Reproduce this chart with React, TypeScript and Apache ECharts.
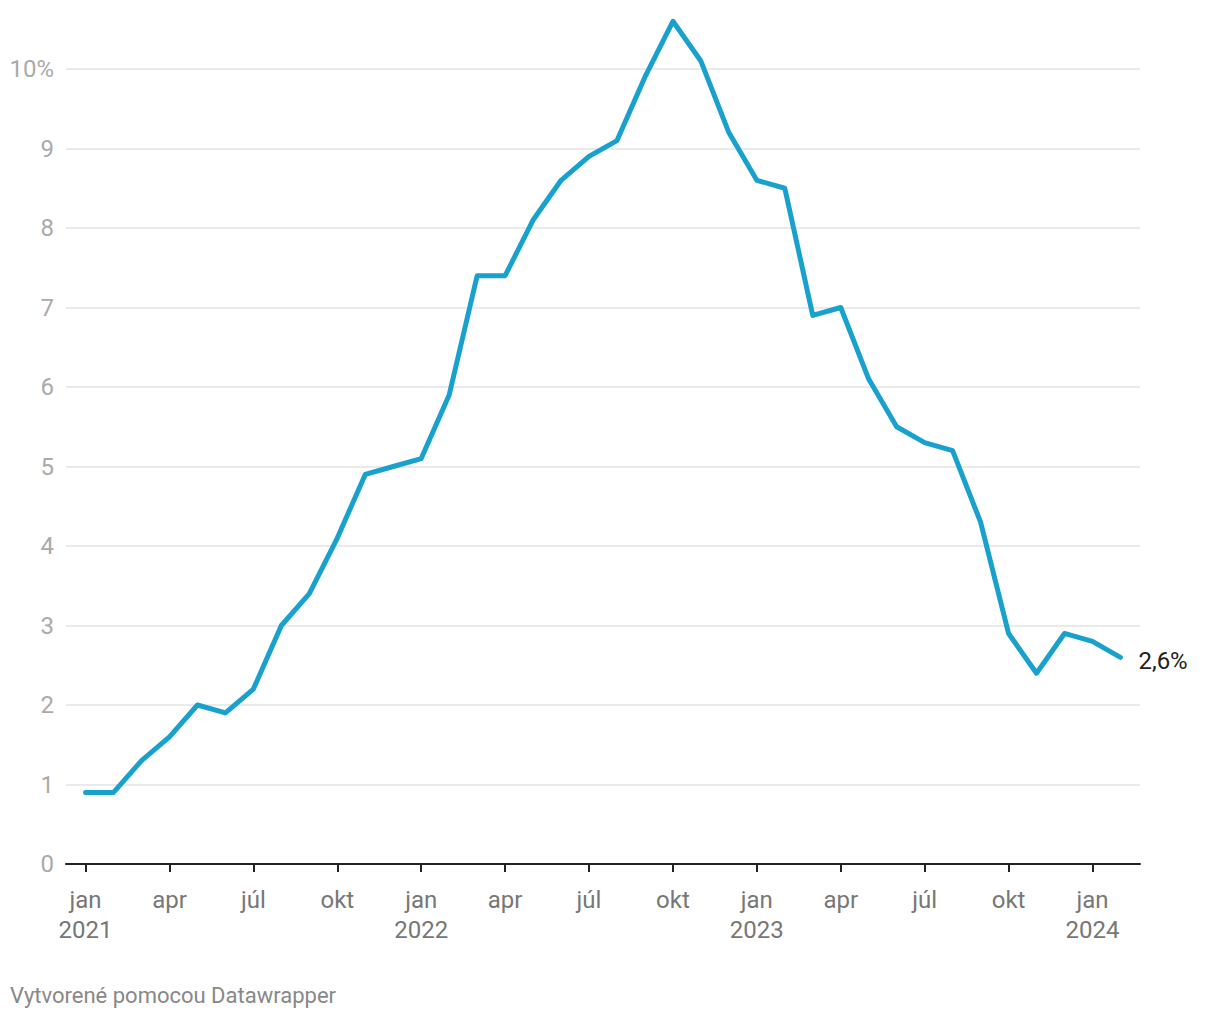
import React, { useEffect, useRef } from "react";
import * as echarts from "echarts";

const months: string[] = ["jan", "feb", "mar", "apr", "máj", "jún", "júl", "aug", "sep", "okt", "nov", "dec"];
const startYear = 2021;
const inflation: number[] = [
  0.9, 0.9, 1.3, 1.6, 2.0, 1.9, 2.2, 3.0, 3.4, 4.1, 4.9, 5.0,
  5.1, 5.9, 7.4, 7.4, 8.1, 8.6, 8.9, 9.1, 9.9, 10.6, 10.1, 9.2,
  8.6, 8.5, 6.9, 7.0, 6.1, 5.5, 5.3, 5.2, 4.3, 2.9, 2.4, 2.9,
  2.8, 2.6,
];
const tickIndices: number[] = [0, 3, 6, 9, 12, 15, 18, 21, 24, 27, 30, 33, 36];
const yTicks: number[] = [0, 1, 2, 3, 4, 5, 6, 7, 8, 9, 10];
const footer = "Vytvorené pomocou Datawrapper";

export default function App() {
  const ref = useRef<HTMLDivElement>(null);
  useEffect(() => {
    document.body.style.margin = "0";
    if (!ref.current) return;
    const chart = echarts.init(ref.current, undefined, { renderer: "svg" });
    const font = "Roboto, 'Noto Sans', sans-serif";
    chart.setOption({
      animation: false,
      textStyle: { fontFamily: font },
      grid: { left: 66, right: 80, top: 69, bottom: 156, containLabel: false },
      xAxis: {
        type: "value",
        min: -0.7,
        max: 37.7,
        axisLine: { show: true, lineStyle: { color: "#222", width: 2 } },
        axisTick: {
          show: true,
          customValues: tickIndices,
          length: 8,
          lineStyle: { color: "#222", width: 2 },
        },
        splitLine: { show: false },
        axisLabel: {
          customValues: tickIndices,
          color: "#777",
          fontSize: 24,
          fontFamily: font,
          lineHeight: 30,
          margin: 21,
          formatter: (v: number) => {
            const i = Math.round(v);
            const m = months[i % 12];
            return i % 12 === 0 ? `${m}\n${startYear + i / 12}` : m;
          },
        },
      },
      yAxis: {
        type: "value",
        min: 0,
        max: 10,
        interval: 1,
        axisLine: { show: false },
        axisTick: { show: false },
        splitLine: { show: true, lineStyle: { color: "#e3e3e3", width: 1.5 } },
        axisLabel: {
          color: "#aaa",
          fontSize: 24,
          fontFamily: font,
          margin: 12,
          formatter: (v: number) => (v === yTicks[yTicks.length - 1] ? `${v}%` : `${v}`),
        },
      },
      series: [
        {
          type: "line",
          data: inflation.map((v, i) => [i, v]),
          showSymbol: false,
          symbol: "none",
          clip: false,
          lineStyle: { color: "#18a1cd", width: 5, cap: "round", join: "round" },
          endLabel: {
            show: true,
            distance: 18,
            offset: [0, 4],
            color: "#222",
            fontSize: 24,
            fontFamily: font,
            formatter: (p: any) => `${String(p.value[1]).replace(".", ",")}%`,
          },
        },
      ],
      graphic: [
        {
          type: "text",
          left: 10,
          top: 984,
          style: { text: footer, fill: "#888", fontSize: 22, fontFamily: font },
        },
      ],
    });
    return () => chart.dispose();
  }, []);
  return <div ref={ref} style={{ width: 1220, height: 1020 }} />;
}
